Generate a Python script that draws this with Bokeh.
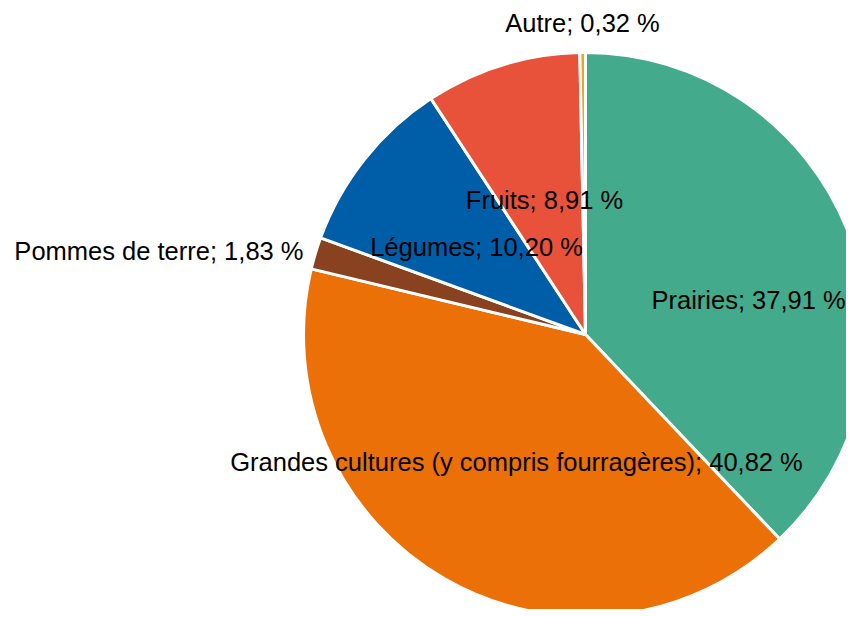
import math
from bokeh.plotting import figure
from bokeh.models import Range1d, ColumnDataSource
from bokeh.core.properties import value
from bokeh.embed import file_html
from bokeh.resources import INLINE

# Data (clockwise from 12 o'clock)
categories = ["Prairies", "Grandes cultures (y compris fourragères)", "Pommes de terre",
              "Légumes", "Fruits", "Autre"]
shares = [37.91, 40.82, 1.83, 10.20, 8.91, 0.32]
colors = ["#44AA8C", "#EC7008", "#884220", "#005EA8", "#E8523A", "#EAA620"]

# Layout (screen-space pixels)
W, H = 846, 609
CX, CY, R = 585, 275, 282
label_pos = [(651, 310, "left"), (516, 148, "center"), (303, 359, "right"),
             (476, 363, "center"), (544, 410, "center"), (582, 587, "center")]

total = sum(shares)
start, end, acc = [], [], 0.0
for s in shares:
    a0 = math.pi / 2 - 2 * math.pi * acc / total
    acc += s
    a1 = math.pi / 2 - 2 * math.pi * acc / total
    start.append(a0)
    end.append(a1)

src = ColumnDataSource(dict(start=start, end=end, color=colors))

p = figure(width=W, height=H, output_backend="svg", toolbar_location=None,
           x_range=Range1d(0, W), y_range=Range1d(0, H), min_border=0)
p.axis.visible = False
p.grid.visible = False
p.outline_line_color = None
p.background_fill_color = "white"
p.border_fill_color = "white"

p.wedge(x=CX, y=CY, radius=R, start_angle="start", end_angle="end", direction="clock",
        fill_color="color", line_color="white", line_width=3, source=src)

labels = [f"{c}; {s:.2f}".replace(".", ",") + " %" for c, s in zip(categories, shares)]
for (lx, ly, al), t in zip(label_pos, labels):
    p.text(x=[lx], y=[ly], text=[t], text_align=al, text_baseline="middle",
           text_font=value("Liberation Sans"), text_font_size="25.5px", text_color="black")

open("out.html", "w").write(file_html(p, INLINE))
